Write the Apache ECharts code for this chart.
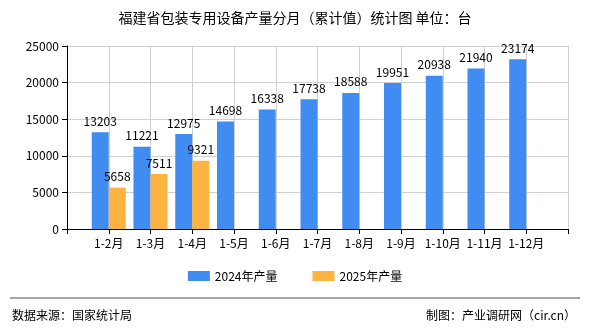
<!DOCTYPE html>
<html><head><meta charset="utf-8">
<script src="https://cdn.jsdelivr.net/npm/echarts@6/dist/echarts.min.js"></script>
<style>html,body{margin:0;padding:0;background:#fff}#c{width:590px;height:330px}</style>
</head><body><div id="c"></div>
<script>
var categories = ['', '1-2月', '1-3月', '1-4月', '1-5月', '1-6月', '1-7月', '1-8月', '1-9月', '1-10月', '1-11月', '1-12月', ''];
var series2024 = [null, 13203, 11221, 12975, 14698, 16338, 17738, 18588, 19951, 20938, 21940, 23174, null];
var series2025 = [null, 5658, 7511, 9321, null, null, null, null, null, null, null, null, null];
var seriesNames = ['2024年产量', '2025年产量'];
var yTicks = [0, 5000, 10000, 15000, 20000, 25000];

var font = '"Noto Sans CJK SC", sans-serif';
var chart = echarts.init(document.getElementById('c'));
chart.setOption({
  animation: false,
  textStyle: {fontFamily: font},
  title: {
    text: '福建省包装专用设备产量分月（累计值）统计图 单位：台',
    left: 'center', top: 6,
    textStyle: {fontSize: 14, fontWeight: 'normal', color: '#000', fontFamily: font}
  },
  legend: {
    data: seriesNames, bottom: 43, left: 'center', icon: 'rect',
    itemWidth: 22, itemHeight: 10, itemGap: 35,
    textStyle: {fontSize: 12, color: '#000', fontFamily: font}
  },
  grid: {left: 67, right: 22, top: 46, bottom: 101},
  xAxis: {
    type: 'category', data: categories, boundaryGap: false,
    axisLine: {lineStyle: {color: '#000'}},
    axisTick: {lineStyle: {color: '#000'}},
    axisLabel: {color: '#000', fontSize: 12, interval: 0},
    splitLine: {show: true, lineStyle: {color: '#d0d0d0'}}
  },
  yAxis: {
    type: 'value', min: yTicks[0], max: yTicks[yTicks.length - 1], interval: 5000,
    axisLine: {show: true, lineStyle: {color: '#000'}},
    axisTick: {show: true, lineStyle: {color: '#000'}},
    axisLabel: {color: '#000', fontSize: 12, formatter: function (v) { return String(v); }},
    splitLine: {lineStyle: {color: '#d0d0d0'}}
  },
  series: [
    {name: seriesNames[0], type: 'bar', data: series2024, barWidth: 17, barGap: '0%',
     itemStyle: {color: '#418cf0'},
     label: {show: true, position: 'top', color: '#000', fontSize: 12}},
    {name: seriesNames[1], type: 'bar', data: series2025, barWidth: 17, barGap: '0%',
     itemStyle: {color: '#fbb341'},
     label: {show: true, position: 'top', color: '#000', fontSize: 12}}
  ],
  graphic: [
    {type: 'line', shape: {x1: 10, y1: 298, x2: 580, y2: 298}, style: {stroke: '#888', lineWidth: 1.5}},
    {type: 'text', left: 12, top: 309, style: {text: '数据来源：国家统计局', fontSize: 12, fill: '#000', fontFamily: font}},
    {type: 'text', right: 14, top: 309, style: {text: '制图：产业调研网（cir.cn）', fontSize: 12, fill: '#000', fontFamily: font}}
  ]
});
</script></body></html>
